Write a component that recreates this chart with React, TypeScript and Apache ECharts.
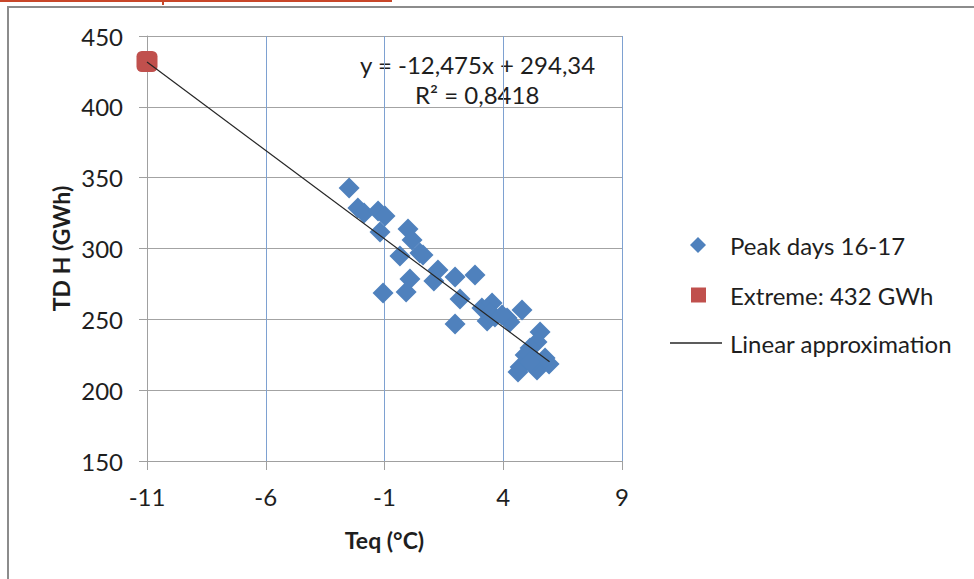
import React, { useEffect, useRef } from 'react';
import * as echarts from 'echarts';

// x axis is shifted by X_OFFSET so that ticks start at a multiple of the interval
const X_OFFSET = 11;
const X_MIN = -11;
const X_MAX = 9;
const X_STEP = 5;
const Y_MIN = 150;
const Y_MAX = 450;
const Y_STEP = 50;

const peakTeq = [
  -2.49, -2.12, -1.86, -1.27, -0.98, -1.19, -0.01, 0.16, 0.49, -0.35,
  -1.06, 0.07, -0.09, 1.25, 1.08, 1.97, 2.81, 2.18, 1.97, 3.1,
  3.53, 3.32, 3.65, 4.16, 4.28, 4.79, 3.44, 3.95, 5.55, 5.42,
  5.13, 4.92, 4.71, 4.62, 5.42, 5.93, 5.34, 5.76, 5.13, 0.62,
];
const peakTDH = [
  342.7, 328.6, 325.1, 326.5, 322.9, 311.6, 313.8, 306, 296.8, 294.7,
  268.6, 278.5, 269.3, 284.8, 277.1, 279.9, 281.3, 264.4, 246.7, 258,
  261.5, 248.8, 251.6, 251, 248.1, 256.6, 254.5, 253.1, 241.1, 234,
  229.8, 224.8, 216.4, 212.8, 214.2, 218.5, 221.3, 222.7, 219.9, 295.4,
];
const extremeTeq = [-11];
const extremeTDH = [432];
const trendTeq = [-11, 5.95];
const trendTDH = [431.6, 220.1];

const seriesNames = ['Peak days 16-17', 'Extreme: 432 GWh', 'Linear approximation'];
const equationText = 'y = -12,475x + 294,34';
const r2Text = 'R\u00b2 = 0,8418';
const xAxisTitle = 'Teq (\u00b0C)';
const yAxisTitle = 'TD H (GWh)';

const FONT = 'Lato, "Liberation Sans", sans-serif';
const TEXT = '#1e1e1e';
const BLUE = '#4f81bd';
const RED = '#c0504d';
const TREND = '#262626';

const pairs = (xs: number[], ys: number[]) => xs.map((x, i) => [x + X_OFFSET, ys[i]]);

export default function App() {
  const ref = useRef<HTMLDivElement>(null);
  useEffect(() => {
    if (!ref.current) return;
    const chart = echarts.init(ref.current, undefined, { renderer: 'svg' });
    const legendText = (padLeft: number) => ({
      fontFamily: FONT,
      fontSize: 24,
      color: TEXT,
      lineHeight: 26,
      padding: [0, 0, 0, padLeft],
    });
    const legendBase = {
      orient: 'vertical' as const,
      padding: 0,
      selectedMode: false,
    };
    chart.setOption({
      animation: false,
      backgroundColor: '#ffffff',
      grid: { left: 147, top: 36, right: 352, bottom: 118, containLabel: false },
      xAxis: {
        type: 'value',
        min: X_MIN + X_OFFSET,
        max: X_MAX + X_OFFSET,
        interval: X_STEP,
        name: xAxisTitle,
        nameLocation: 'middle',
        nameGap: 67,
        nameTextStyle: { fontFamily: FONT, fontSize: 23, fontWeight: 'bold', color: TEXT },
        axisLine: { show: true, lineStyle: { color: '#a0a0a0', width: 1 } },
        axisTick: { show: true, length: 9, lineStyle: { color: '#a0a0a0' } },
        axisLabel: {
          margin: 23,
          fontFamily: FONT,
          fontSize: 24,
          color: TEXT,
          formatter: (v: number) => String(v - X_OFFSET),
        },
        splitLine: { show: true, lineStyle: { color: '#7ea1d1', width: 1 } },
      },
      yAxis: {
        type: 'value',
        min: Y_MIN,
        max: Y_MAX,
        interval: Y_STEP,
        name: yAxisTitle,
        nameLocation: 'middle',
        nameRotate: 90,
        nameGap: 75,
        nameTextStyle: { fontFamily: FONT, fontSize: 23, fontWeight: 'bold', color: TEXT },
        axisLine: { show: true, lineStyle: { color: '#a0a0a0', width: 1 } },
        axisTick: { show: true, length: 8, lineStyle: { color: '#a0a0a0' } },
        axisLabel: { margin: 24, fontFamily: FONT, fontSize: 24, color: TEXT },
        splitLine: { show: true, lineStyle: { color: '#a3a3a3', width: 1 } },
      },
      legend: [
        {
          ...legendBase,
          left: 690,
          top: 232,
          itemWidth: 16,
          itemHeight: 16,
          textStyle: legendText(19),
          data: [{ name: seriesNames[0], icon: 'diamond' }],
        },
        {
          ...legendBase,
          left: 691,
          top: 282,
          itemWidth: 15,
          itemHeight: 15,
          textStyle: legendText(19),
          data: [{ name: seriesNames[1], icon: 'rect' }],
        },
        {
          ...legendBase,
          left: 670,
          top: 330,
          itemWidth: 52,
          itemHeight: 1.5,
          textStyle: legendText(3),
          data: [{ name: seriesNames[2], icon: 'rect' }],
        },
      ],
      series: [
        {
          name: seriesNames[0],
          type: 'scatter',
          symbol: 'diamond',
          symbolSize: 21,
          itemStyle: { color: BLUE, opacity: 1 },
          data: pairs(peakTeq, peakTDH),
          z: 2,
        },
        {
          name: seriesNames[1],
          type: 'scatter',
          symbol: 'roundRect',
          symbolSize: 21,
          itemStyle: { color: RED, opacity: 1 },
          data: pairs(extremeTeq, extremeTDH),
          z: 2,
        },
        {
          name: seriesNames[2],
          type: 'line',
          symbol: 'none',
          showSymbol: false,
          lineStyle: { color: TREND, width: 1.2 },
          itemStyle: { color: TREND },
          data: pairs(trendTeq, trendTDH),
          z: 3,
        },
      ],
      graphic: [
        { type: 'rect', left: 0, top: 0, shape: { width: 392, height: 2 }, style: { fill: '#c8472a' } },
        { type: 'rect', left: 162, top: 0, shape: { width: 2, height: 5 }, style: { fill: '#c8472a' } },
        { type: 'rect', left: 8, top: 6, shape: { width: 966, height: 2 }, style: { fill: '#8c8c8c' } },
        { type: 'rect', left: 7, top: 6, shape: { width: 2, height: 573 }, style: { fill: '#8c8c8c' } },
        {
          type: 'text',
          left: 360,
          top: 52,
          style: { text: equationText, fontFamily: FONT, fontSize: 24, fill: TEXT },
        },
        {
          type: 'text',
          left: 415,
          top: 82,
          style: { text: r2Text, fontFamily: FONT, fontSize: 24, fill: TEXT },
        },
      ],
    });
    return () => chart.dispose();
  }, []);
  return (
    <div
      ref={ref}
      style={{ position: 'fixed', left: 0, top: 0, width: 974, height: 579 }}
    />
  );
}
